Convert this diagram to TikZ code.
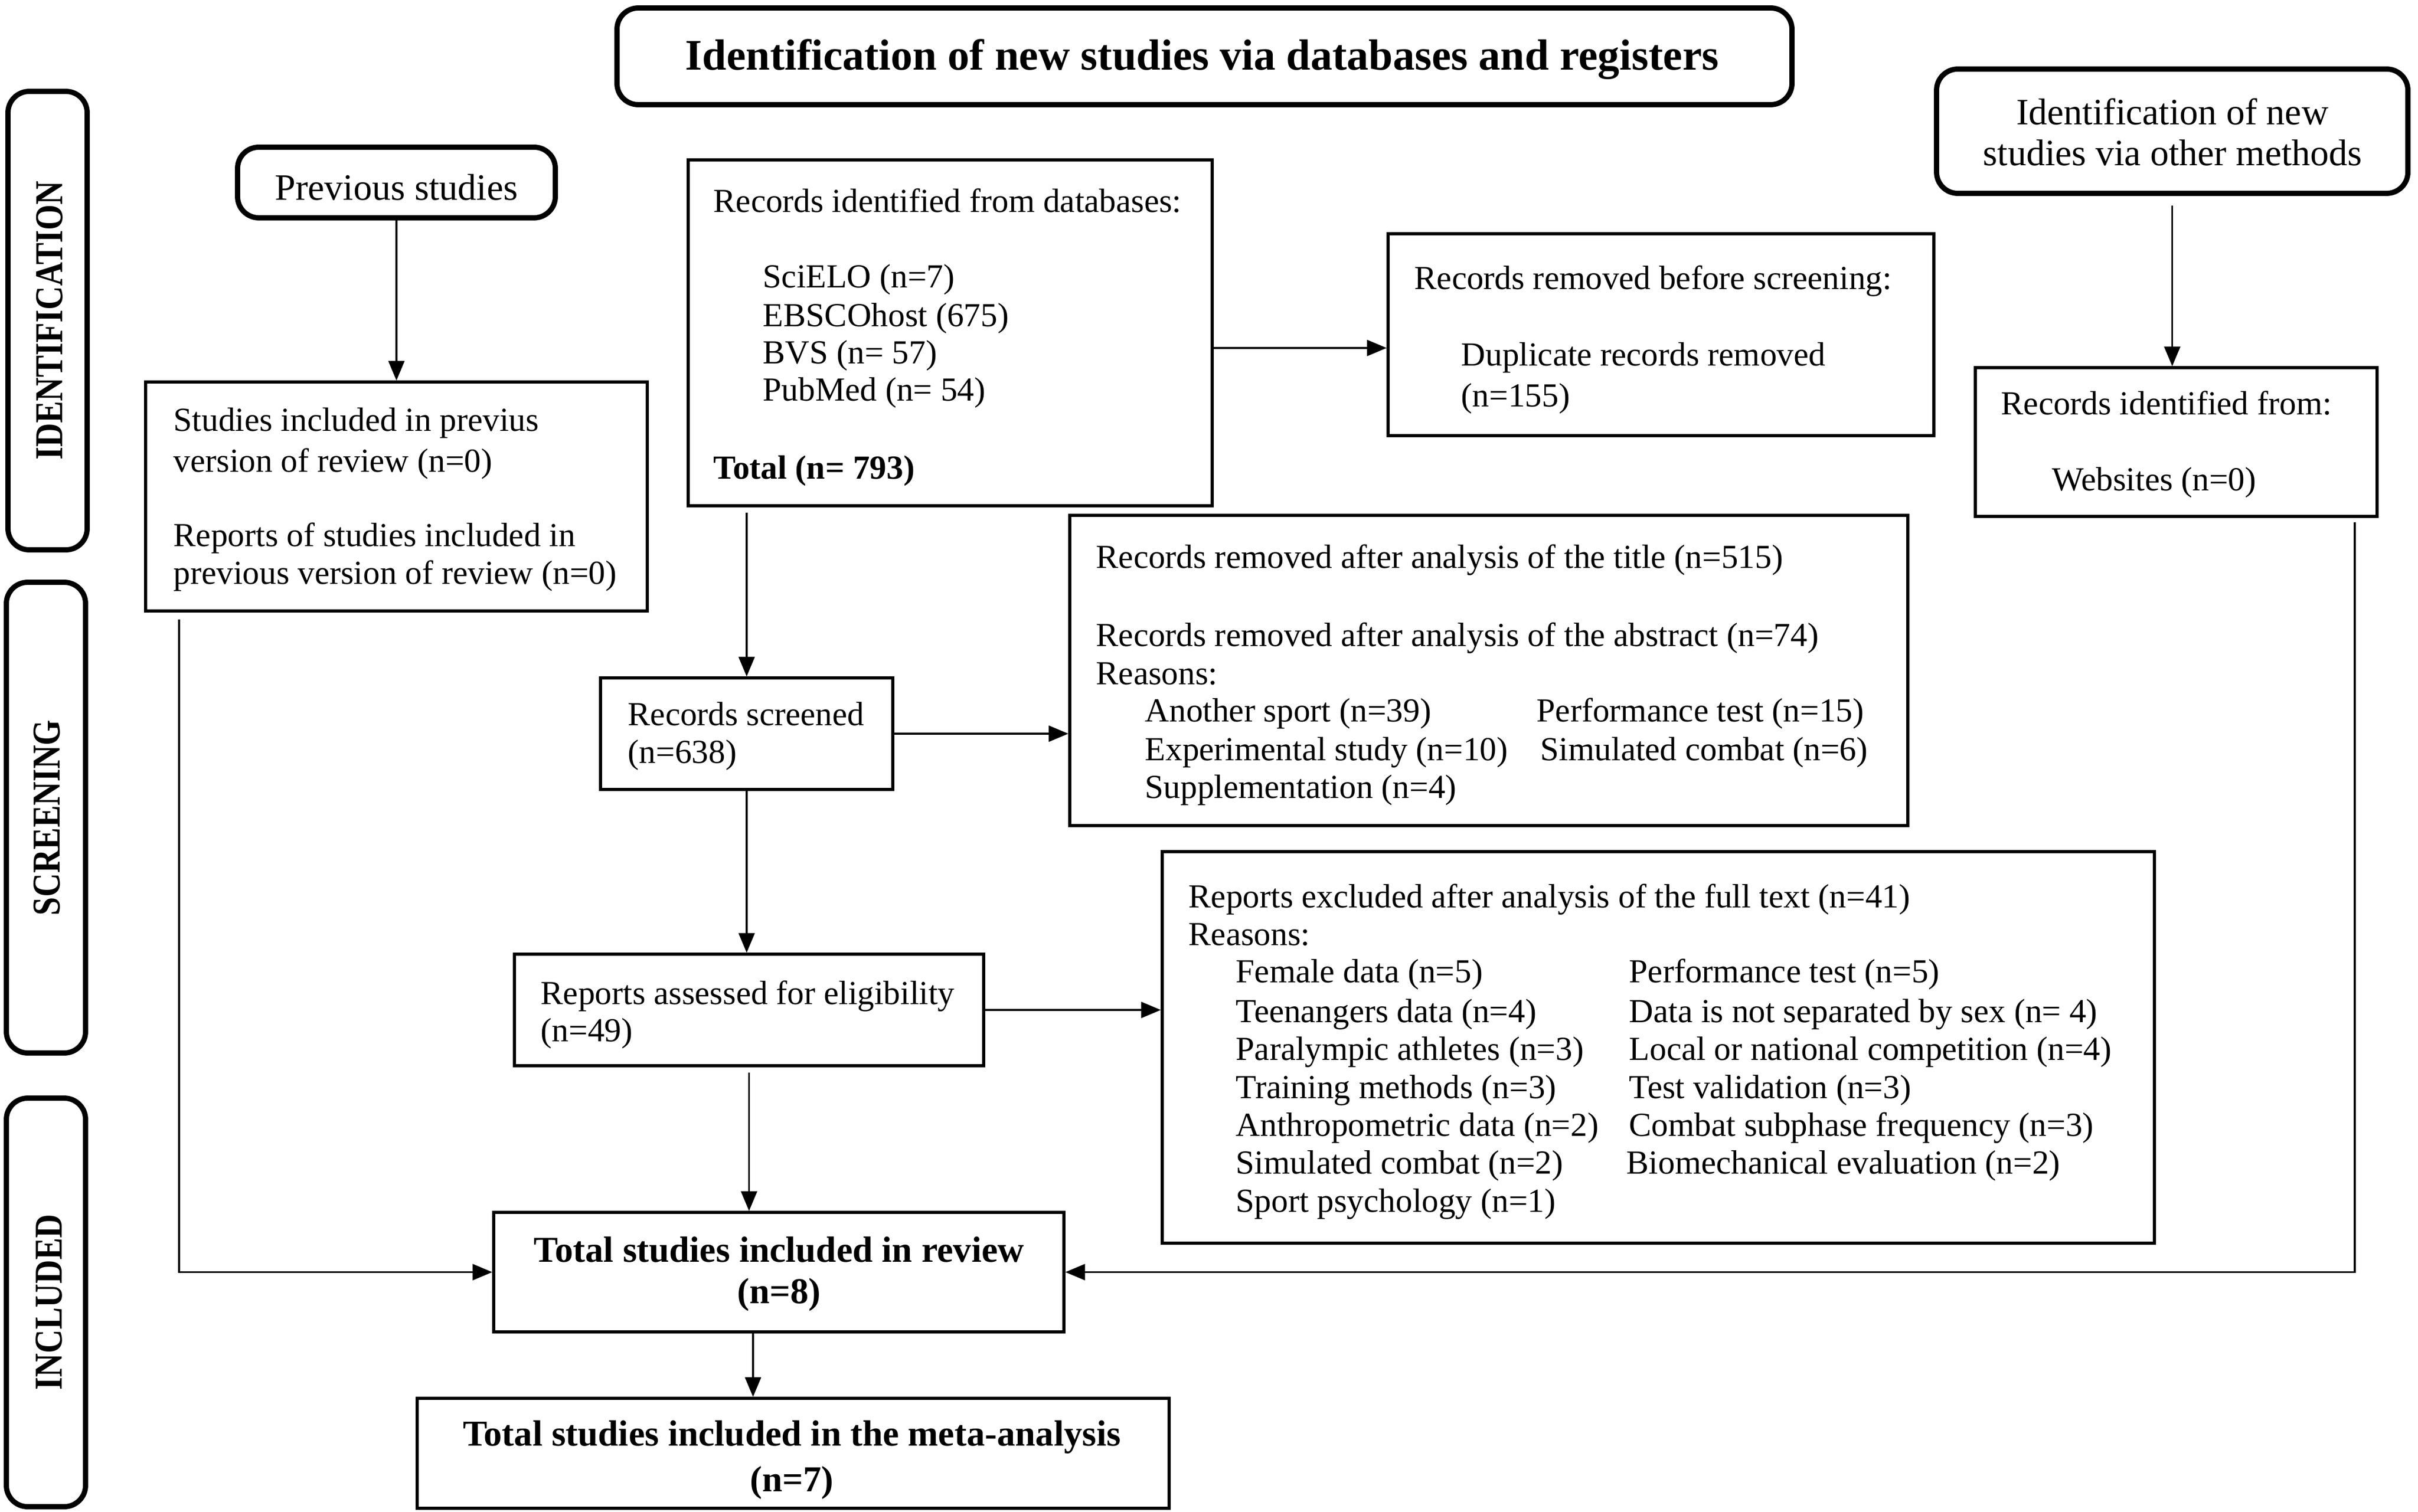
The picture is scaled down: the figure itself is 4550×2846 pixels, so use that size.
\documentclass[tikz,border=0pt]{standalone}
\usepackage{fontspec}
\setmainfont{Liberation Serif}
\usetikzlibrary{arrows.meta,fit,calc}
\begin{document}
\begin{tikzpicture}[x=0.01cm,y=-0.01cm,
  box/.style={draw, line width=1.5pt, inner sep=0pt},
  rbox/.style={draw, line width=2.8pt, rounded corners=0.4cm, inner sep=0pt},
  txt/.style={inner sep=0pt, anchor=base west, font=\fontsize{18}{20.5}\selectfont},
  ctxt/.style={inner sep=0pt, anchor=base, font=\fontsize{19.9}{22}\selectfont},
  btxt/.style={inner sep=0pt, anchor=base, font=\fontsize{19.5}{22}\selectfont\bfseries},
  side/.style={inner sep=0pt, rotate=90, font=\fontsize{17.6}{20}\selectfont\bfseries},
  arr/.style={line width=1.1pt, -{Triangle[length=10.5pt,width=8.5pt]}}]
\fill[white] (0,0) rectangle (4550,2846);
\useasboundingbox (0,0) rectangle (4550,2846);

% title
\node[rbox, fit={(1161,15)(3372,197)}] (title) {};
\node[inner sep=0pt, anchor=base, font=\fontsize{23.3}{26}\selectfont\bfseries] (titlet) at (2262,132) {Identification of new studies via databases and registers};

% side labels
\node[rbox, fit={(15,172)(164,1035)}] (sid) {};
\node[side] (sidt) at (93,603) {\scalebox{1}[1.2]{IDENTIFICATION}};
\node[rbox, fit={(12,1096)(161,1982)}] (sscr) {};
\node[side] (sscrt) at (88,1539) {\scalebox{1}[1.2]{SCREENING}};
\node[rbox, fit={(12,2067)(161,2836)}] (sinc) {};
\node[side] (sinct) at (92,2451) {\scalebox{1}[1.2]{INCLUDED}};

% previous studies
\node[rbox, fit={(447,277)(1045,410)}] (prev) {};
\node[ctxt] (prevt) at (746,377) {Previous studies};

\node[box, fit={(274,719)(1218,1150)}] (studies) {};
\node[txt] (st1) at (326,812) {Studies included in previus};
\node[txt] (st2) at (326,889) {version of review (n=0)};
\node[txt] (st3) at (326,1028) {Reports of studies included in};
\node[txt] (st4) at (326,1100) {previous version of review (n=0)};

% databases
\node[box, fit={(1295,301)(2281,952)}] (dbs) {};
\node[txt] (db1) at (1342,400) {Records identified from databases:};
\node[txt] (db2) at (1435,542) {SciELO (n=7)};
\node[txt] (db3) at (1435,615) {EBSCOhost (675)};
\node[txt] (db4) at (1435,685) {BVS (n= 57)};
\node[txt] (db5) at (1435,755) {PubMed (n= 54)};
\node[txt, font=\fontsize{18}{20.5}\selectfont\bfseries] (db6) at (1342,902) {Total (n= 793)};

\node[box, fit={(2612,440)(3639,820)}] (rmv) {};
\node[txt] (rm1) at (2661,545) {Records removed before screening:};
\node[txt] (rm2) at (2749,689) {Duplicate records removed};
\node[txt] (rm3) at (2749,766) {(n=155)};

% other methods
\node[rbox, fit={(3644,130)(4531,364)}] (other) {};
\node[ctxt] (ot1) at (4088,235) {Identification of new};
\node[ctxt] (ot2) at (4088,312) {studies via other methods};

\node[box, fit={(3717,692)(4473,972)}] (web) {};
\node[txt] (wb1) at (3765,781) {Records identified from:};
\node[txt] (wb2) at (3861,924) {Websites (n=0)};

% screening
\node[box, fit={(2013,970)(3590,1554)}] (excl) {};
\node[txt] (ex1) at (2062,1069) {Records removed after analysis of the title (n=515)};
\node[txt] (ex2) at (2062,1216) {Records removed after analysis of the abstract (n=74)};
\node[txt] (ex3) at (2062,1288) {Reasons:};
\node[txt] (ex4) at (2154,1358) {Another sport (n=39)};
\node[txt] (ex5) at (2891,1358) {Performance test (n=15)};
\node[txt] (ex6) at (2154,1431) {Experimental study (n=10)};
\node[txt] (ex7) at (2898,1431) {Simulated combat (n=6)};
\node[txt] (ex8) at (2154,1502) {Supplementation (n=4)};

\node[box, fit={(1130,1276)(1680,1486)}] (scr) {};
\node[txt] (sc1) at (1181,1365) {Records screened};
\node[txt] (sc2) at (1181,1436) {(n=638)};

\node[box, fit={(968,1796)(1851,2006)}] (ass) {};
\node[txt] (as1) at (1017,1890) {Reports assessed for eligibility};
\node[txt] (as2) at (1017,1960) {(n=49)};

\node[box, fit={(2187,1603)(4054,2340)}] (full) {};
\node[txt] (fu1) at (2236,1708) {Reports excluded after analysis of the full text (n=41)};
\node[txt] (fu2) at (2236,1779) {Reasons:};
\node[txt] (fl1) at (2325,1849) {Female data (n=5)};
\node[txt] (fl2) at (2325,1924) {Teenangers data (n=4)};
\node[txt] (fl3) at (2325,1995) {Paralympic athletes (n=3)};
\node[txt] (fl4) at (2325,2067) {Training methods (n=3)};
\node[txt] (fl5) at (2325,2138) {Anthropometric data (n=2)};
\node[txt] (fl6) at (2325,2209) {Simulated combat (n=2)};
\node[txt] (fl7) at (2325,2281) {Sport psychology (n=1)};
\node[txt] (fr1) at (3065,1849) {Performance test (n=5)};
\node[txt] (fr2) at (3065,1924) {Data is not separated by sex (n= 4)};
\node[txt] (fr3) at (3065,1995) {Local or national competition (n=4)};
\node[txt] (fr4) at (3065,2067) {Test validation (n=3)};
\node[txt] (fr5) at (3065,2138) {Combat subphase frequency (n=3)};
\node[txt] (fr6) at (3060,2209) {Biomechanical evaluation (n=2)};

% included
\node[box, fit={(929,2282)(2002,2507)}] (rev) {};
\node[btxt] (rv1) at (1466,2375) {Total studies included in review};
\node[btxt] (rv2) at (1466,2453) {(n=8)};

\node[box, fit={(785,2632)(2200,2839)}] (meta) {};
\node[btxt] (mt1) at (1490,2721) {Total studies included in the meta-analysis};
\node[btxt] (mt2) at (1490,2807) {(n=7)};

% connectors
\coordinate (a1) at (0,655);
\coordinate (lx) at (337,0);
\coordinate (rx) at (4431,0);
\coordinate (mx) at (1417,0);
\draw[arr] (prev.south) -- (prev.south |- studies.north);
\draw[arr] (dbs.east |- a1) -- (rmv.west |- a1);
\draw[arr] ($(scr.north |- dbs.south)+(0,10)$) -- (scr.north);
\draw[arr] ($(other.south)+(0,18)$) -- (other.south |- web.north);
\draw[arr] (scr.east) -- (excl.west |- scr.east);
\draw[arr] (scr.south) -- (scr.south |- ass.north);
\draw[arr] (ass.east) -- (full.west |- ass.east);
\draw[arr] ($(ass.south)+(0,10)$) -- (ass.south |- rev.north);
\draw[arr] ($(studies.south -| lx)+(0,13)$) |- (rev.west);
\draw[arr] ($(web.south -| rx)+(0,8)$) |- (rev.east);
\draw[arr] (rev.south -| mx) -- (meta.north -| mx);
\end{tikzpicture}
\end{document}
